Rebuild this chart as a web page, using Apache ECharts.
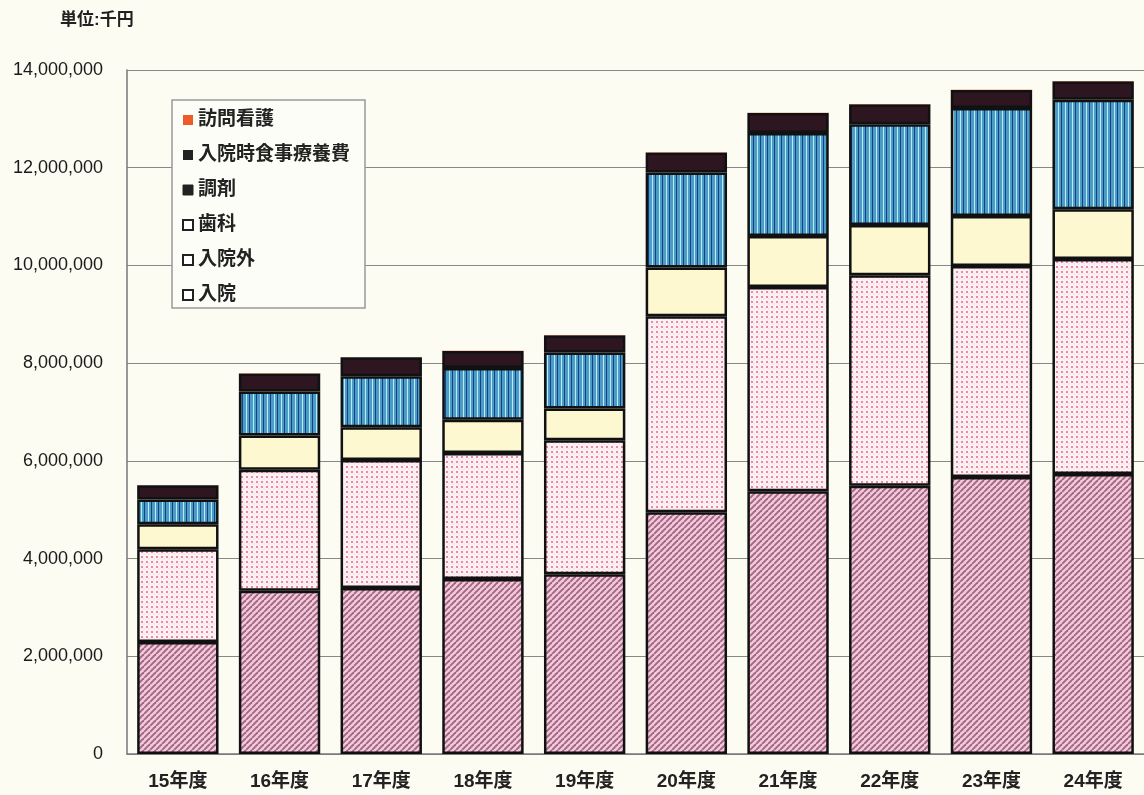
<!DOCTYPE html>
<html><head><meta charset="utf-8">
<script src="https://cdn.jsdelivr.net/npm/echarts@6/dist/echarts.min.js"></script>
<style>html,body{margin:0;padding:0;background:#fcfcf3;}#c{width:1144px;height:795px;}</style>
</head><body><div id="c"></div>
<script>
const categories = ['15年度','16年度','17年度','18年度','19年度','20年度','21年度','22年度','23年度','24年度'];
const nyuin     = [2290000,3340000,3400000,3580000,3680000,4950000,5380000,5490000,5670000,5730000];
const nyuingai  = [1900000,2480000,2620000,2580000,2740000,4010000,4180000,4310000,4320000,4400000];
const shika     = [510000,700000,670000,680000,650000,1000000,1040000,1030000,1020000,1020000];
const chozai    = [510000,900000,1040000,1060000,1150000,1940000,2110000,2060000,2210000,2240000];
const shokuji   = [290000,370000,390000,350000,350000,410000,410000,410000,370000,380000];
const homon     = [2000,3000,3000,3000,4000,5000,5000,5000,6000,6000];
const yTicks = [0,2000000,4000000,6000000,8000000,10000000,12000000,14000000];

function mk(w,h,draw){const c=document.createElement('canvas');c.width=w;c.height=h;const g=c.getContext('2d');draw(g);return {image:c,repeat:'repeat'};}
const patNyuin = mk(6,6,g=>{g.fillStyle='#f1c9d9';g.fillRect(0,0,6,6);g.strokeStyle='#a36584';g.lineWidth=1.9;
  for(let k=-6;k<=12;k+=6){g.beginPath();g.moveTo(k-6,6);g.lineTo(k,0);g.stroke();}});
const patGai = mk(5,5,g=>{g.fillStyle='#fdf1f4';g.fillRect(0,0,5,5);g.fillStyle='#e88aa6';g.fillRect(1,1,2,2);g.fillStyle='#f6c8d6';g.fillRect(3.5,3.5,1,1);});
const patShika = '#fdf8d0';
const patChozai = mk(14,2,g=>{g.fillStyle='#4b9dc5';g.fillRect(0,0,14,2);
  g.fillStyle='#b8ecfa';g.fillRect(1,0,1,2);g.fillRect(8,0,1,2);
  g.fillStyle='#1b3d88';g.fillRect(4,0,1,2);g.fillRect(11,0,1,2);});
const font = "'Liberation Sans','Noto Sans CJK JP',sans-serif";
const border = {borderColor:'#111',borderWidth:2.5};
function s(name,data,color){return {name,type:'bar',stack:'t',data,barCategoryGap:'20%',itemStyle:Object.assign({color},border)};}
const chart = echarts.init(document.getElementById('c'));
chart.setOption({
  backgroundColor:'#fcfcf3',
  animation:false,
  title:{text:'単位:千円',left:55,top:7,textStyle:{fontFamily:font,fontSize:17,fontWeight:'bold',color:'#222'}},
  legend:{orient:'vertical',left:172,top:100,padding:[10,15,3,10],itemGap:15,itemWidth:10,itemHeight:10,
    backgroundColor:'#fdfdf7',borderColor:'#999',borderWidth:1.5,icon:'rect',
    textStyle:{fontFamily:font,fontSize:19,fontWeight:'bold',color:'#222',lineHeight:20},
    data:[
      {name:'訪問看護',itemStyle:{color:'#ee5a28',borderWidth:0}},
      {name:'入院時食事療養費',itemStyle:{color:'#222',borderWidth:0}},
      {name:'調剤',itemStyle:{color:'#222',borderColor:'#222',borderWidth:1}},
      {name:'歯科',itemStyle:{color:'#fff',borderColor:'#222',borderWidth:2}},
      {name:'入院外',itemStyle:{color:'#fff',borderColor:'#222',borderWidth:2}},
      {name:'入院',itemStyle:{color:'#fff',borderColor:'#222',borderWidth:2}}
    ]},
  grid:{left:127,right:-3,top:70,bottom:41},
  xAxis:{type:'category',data:categories,axisLine:{lineStyle:{color:'#777',width:1.5}},axisTick:{show:false},
    axisLabel:{fontFamily:font,fontSize:19,fontWeight:'bold',color:'#222',margin:18}},
  yAxis:{type:'value',min:0,max:14000000,interval:2000000,
    axisLine:{show:true,lineStyle:{color:'#777',width:1.5}},axisTick:{show:false},
    splitLine:{lineStyle:{color:'#888',width:1.2}},
    axisLabel:{fontFamily:font,fontSize:18,color:'#1a1a1a',margin:24,
      formatter:v=>yTicks.includes(v)?v.toLocaleString('en-US'):''}},
  series:[
    s('入院',nyuin,patNyuin),
    s('入院外',nyuingai,patGai),
    s('歯科',shika,patShika),
    s('調剤',chozai,patChozai),
    s('入院時食事療養費',shokuji,'#2d1620'),
    {name:'訪問看護',type:'bar',stack:'t',data:homon,itemStyle:{color:'#ee5a28',borderWidth:0}}
  ]
});
</script></body></html>
